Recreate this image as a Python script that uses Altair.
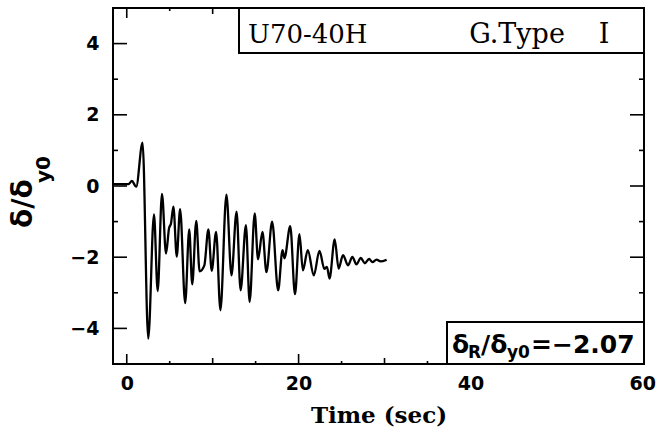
import altair as alt
import pandas as pd

# Response history: normalized displacement vs. time
time_s = [-1.5, 0.2, 0.6, 1.1, 1.84, 2.5, 3.17, 3.6, 4.1, 4.57, 4.92, 5.15, 5.43, 5.82,
          6.21, 6.8, 7.27, 7.62, 8.09, 8.48, 9.03, 9.5, 9.89, 10.4, 10.9, 11.6, 12.19,
          12.78, 13.25, 13.87, 14.3, 14.89, 15.28, 15.79, 16.26, 16.92, 17.62, 18.13,
          18.35, 19.03, 19.58, 20.1, 20.5, 21.07, 21.77, 22.43, 23.0, 23.3, 23.6, 24.2,
          24.66, 25.17, 25.75, 26.26, 26.73, 27.24, 27.7, 28.2, 28.6, 29.07, 29.54, 30.25]
ratio = [0.05, 0.05, 0.14, -0.02, 1.22, -4.29, -0.8, -2.95, -0.22, -1.9, -1.19, -1.05,
         -0.58, -1.98, -0.65, -3.29, -1.22, -2.76, -0.98, -2.4, -2.23, -1.22, -2.38,
         -1.29, -3.49, -0.24, -2.51, -0.72, -2.93, -1.1, -3.26, -0.77, -2.06, -1.29,
         -2.42, -1.0, -2.93, -1.8, -2.03, -1.13, -3.04, -1.35, -2.37, -1.8, -2.51, -1.82,
         -2.33, -2.27, -2.6, -1.5, -2.32, -1.94, -2.23, -1.99, -2.2, -2.02, -2.17, -2.05,
         -2.14, -2.07, -2.12, -2.07]
assert len(time_s) == len(ratio)

# Axis tick positions
x_labels = [0, 20, 40, 60]
x_mid = [10, 30, 50]
x_minor = [5, 15, 25, 35, 45, 55]
y_labels = [-4, -2, 0, 2, 4]
y_minor = [-3, -1, 1, 3]

W, H = 531, 356
xscale = alt.Scale(domain=[-1.6, 60.2], nice=False, zero=False)
yscale = alt.Scale(domain=[-5, 5], nice=False, zero=False)

# One axis definition per channel, shared by every layer so they merge cleanly
X_AXIS = alt.Axis(values=x_labels, tickSize=0, domain=False, grid=False,
                  labelFont="DejaVu Sans", labelFontWeight="bold", labelFontSize=19,
                  labelColor="black", labelPadding=10, labelFlush=False,
                  title="Time  (sec)", titleFont="DejaVu Serif",
                  titleFontWeight="bold", titleFontSize=23, titleColor="black",
                  titleY=58, titleBaseline="alphabetic")
Y_AXIS = alt.Axis(values=y_labels, tickSize=0, domain=False, grid=False,
                  labelFont="DejaVu Sans", labelFontWeight="bold", labelFontSize=19,
                  labelColor="black", labelPadding=14, labelFlush=False,
                  title="")

df = pd.DataFrame({"t": time_s, "v": ratio})

line = alt.Chart(df).mark_line(color="black", strokeWidth=2.3, interpolate="monotone").encode(
    x=alt.X("t:Q", scale=xscale, axis=X_AXIS),
    y=alt.Y("v:Q", scale=yscale, axis=Y_AXIS),
)


def xticks(vals, length):
    d = pd.DataFrame({"t": vals})
    base = alt.Chart(d).mark_rule(color="black", strokeWidth=1.6)
    bottom = base.encode(x=alt.X("t:Q", scale=xscale, axis=X_AXIS),
                         y=alt.value(H), y2=alt.value(H - length))
    top = base.encode(x=alt.X("t:Q", scale=xscale, axis=X_AXIS),
                      y=alt.value(0), y2=alt.value(length))
    return [bottom, top]


def yticks(vals, length):
    d = pd.DataFrame({"v": vals})
    base = alt.Chart(d).mark_rule(color="black", strokeWidth=1.6)
    left = base.encode(y=alt.Y("v:Q", scale=yscale, axis=Y_AXIS),
                       x=alt.value(0), x2=alt.value(length))
    right = base.encode(y=alt.Y("v:Q", scale=yscale, axis=Y_AXIS),
                        x=alt.value(W), x2=alt.value(W - length))
    return [left, right]


def label(text, x, y, size, font="DejaVu Sans", weight="bold", angle=0, align="left"):
    d = pd.DataFrame({"s": [text]})
    return alt.Chart(d).mark_text(
        font=font, fontSize=size, fontWeight=weight, angle=angle, align=align,
        baseline="alphabetic", color="black",
    ).encode(text="s:N", x=alt.value(x), y=alt.value(y))


def box(x0, x1, y0, y1):
    d = pd.DataFrame({"s": [""]})
    return alt.Chart(d).mark_rect(fill="white", stroke="black", strokeWidth=2).encode(
        x=alt.value(x0), x2=alt.value(x1), y=alt.value(y0), y2=alt.value(y1))


layers = [line]
layers += xticks(x_labels, 10) + xticks(x_mid, 6) + xticks(x_minor, 3)
layers += yticks(y_labels, 14) + yticks(y_minor, 5)

# Title box
layers += [box(126, W, 0, 45),
           label("U70-40H", 135, 35, 26, font="DejaVu Serif", weight="normal"),
           label("G.Type", 404, 35, 27, font="DejaVu Serif", weight="normal", align="center"),
           label("I", 491, 35, 27, font="DejaVu Serif", weight="normal", align="center")]

# Residual displacement box
layers += [box(334, W, 314, H),
           label("δ", 339, 345, 25),
           label("R", 355, 350, 17),
           label("/δ", 368, 345, 25),
           label("y0", 394, 350, 17),
           label("=−2.07", 418, 345, 25)]

# Y axis title with subscript, rotated
layers += [label("δ/δ", -81, 220, 28, angle=270),
           label("y0", -63, 175, 20, angle=270)]

chart = alt.layer(*layers).properties(
    width=W, height=H,
    autosize=alt.AutoSizeParams(type="none"),
    padding={"left": 113, "top": 8, "right": 13, "bottom": 74},
    background="white",
).configure_view(stroke="black", strokeWidth=2)

chart.save("out.html", embed_options={"renderer": "svg", "actions": False})
